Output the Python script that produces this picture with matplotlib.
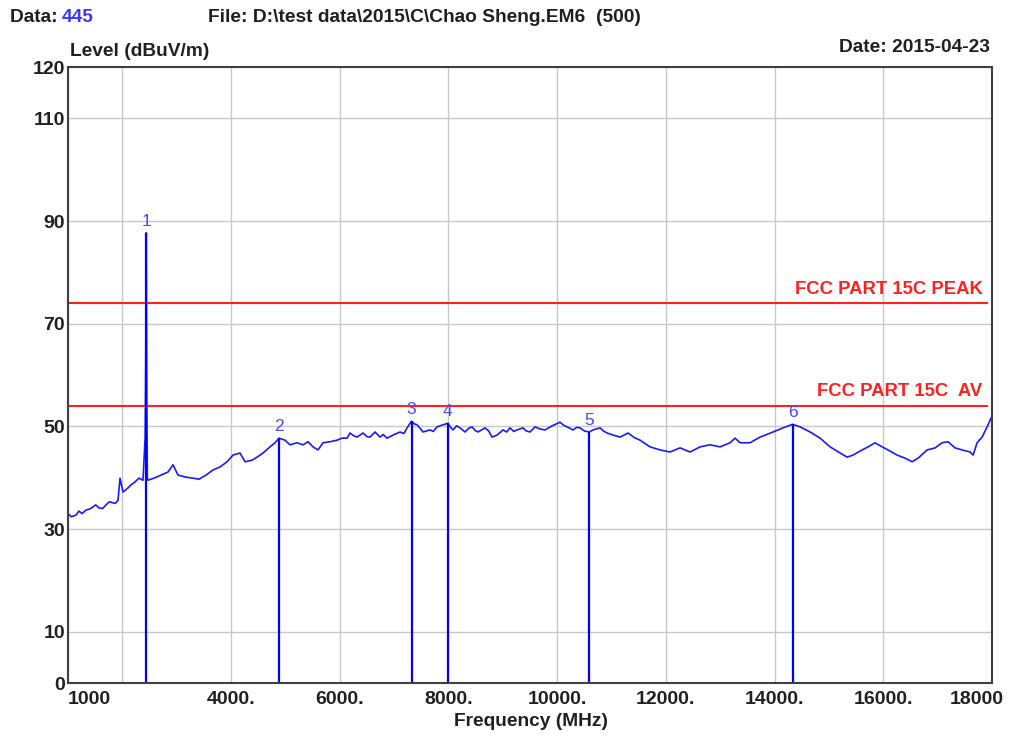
import matplotlib
matplotlib.use('Agg')
import matplotlib.pyplot as plt
import matplotlib.transforms as mtransforms

plt.rcParams['font.family'] = ['Liberation Sans', 'DejaVu Sans']

# Measured trace (MHz, dBuV/m)
freq_mhz = [1000, 1060, 1147, 1200, 1260, 1331, 1400, 1460, 1510, 1570, 1640, 1699, 1760, 1828,
            1870, 1920, 1957, 2012, 2104, 2160, 2214, 2306, 2380,
            2420, 2430, 2440, 2450, 2460, 2472, 2582, 2711, 2840, 2932, 3024, 3171, 3300, 3410,
            3539, 3668, 3800, 3926, 4036, 4165, 4257, 4386, 4478, 4588, 4717, 4809, 4880, 4993,
            5085, 5214, 5324, 5416, 5508, 5600, 5692, 5821, 5950, 6042, 6134, 6189, 6250, 6318,
            6428, 6500, 6557, 6649, 6741, 6800, 6870, 6980, 7109, 7180, 7238, 7320, 7370, 7422,
            7480, 7532, 7661, 7720, 7790, 7900, 7990, 8040, 8084, 8150, 8213, 8305, 8370, 8434,
            8490, 8544, 8673, 8740, 8802, 8894, 9004, 9070, 9133, 9200, 9262, 9372, 9430, 9501,
            9593, 9680, 9777, 9906, 10053, 10120, 10182, 10292, 10360, 10421, 10500, 10590, 10660,
            10789, 10850, 10918, 11028, 11157, 11304, 11420, 11525, 11709, 11893, 12077, 12261,
            12445, 12629, 12813, 12997, 13181, 13273, 13365, 13549, 13733, 13972, 14156, 14330,
            14469, 14653, 14837, 15021, 15205, 15334, 15444, 15610, 15720, 15849, 15978, 16088,
            16254, 16401, 16530, 16640, 16806, 16953, 17082, 17192, 17320, 17450, 17597, 17652,
            17726, 17818, 17910, 18000]
level_db = [33.0, 32.4, 32.7, 33.5, 33.0, 33.7, 33.9, 34.3, 34.7, 34.1, 34.0, 34.7, 35.3, 35.1,
            35.0, 35.6, 39.9, 37.2, 38.0, 38.6, 39.0, 39.9, 39.5,
            48.0, 62.0, 87.7, 56.0, 40.0, 39.5, 39.9, 40.5, 41.1, 42.5, 40.5, 40.1, 39.9, 39.7,
            40.5, 41.5, 42.1, 43.1, 44.4, 44.8, 43.1, 43.4, 44.0, 44.8, 46.0, 46.8, 47.7, 47.3,
            46.4, 46.8, 46.4, 47.0, 46.0, 45.4, 46.8, 47.0, 47.3, 47.7, 47.7, 48.7, 48.2, 47.9,
            48.7, 48.0, 47.9, 48.9, 47.9, 48.4, 47.7, 48.3, 48.9, 48.6, 49.7, 51.0, 50.5, 50.3,
            49.6, 48.9, 49.3, 49.0, 49.9, 50.3, 50.6, 49.8, 49.3, 50.1, 49.7, 48.9, 49.6, 49.9,
            49.2, 48.9, 49.7, 49.1, 47.9, 48.3, 49.3, 48.9, 49.7, 49.0, 49.3, 49.7, 49.1, 48.9,
            49.9, 49.5, 49.3, 50.1, 50.8, 50.2, 49.9, 49.3, 49.8, 49.7, 49.1, 48.9, 49.3,
            49.7, 49.1, 48.7, 48.3, 47.9, 48.7, 47.8, 47.3, 46.0, 45.4, 45.0, 45.8,
            45.0, 46.0, 46.4, 46.0, 46.8, 47.7, 46.8, 46.8, 47.9, 48.9, 49.7, 50.4,
            49.9, 48.9, 47.7, 46.0, 44.8, 44.0, 44.4, 45.4, 46.0, 46.8, 46.0, 45.4,
            44.4, 43.8, 43.1, 43.8, 45.4, 45.8, 46.8, 47.0, 45.8, 45.4, 45.0, 44.4,
            46.8, 47.9, 49.9, 52.0]

# Markers
marker_ids = ['1', '2', '3', '4', '5', '6']
marker_freq = [2440, 4880, 7320, 7990, 10590, 14330]
marker_level = [87.7, 47.7, 51.0, 50.6, 48.9, 50.4]

# Limit lines
limit_names = ['FCC PART 15C PEAK', 'FCC PART 15C  AV']
limit_levels = [74, 54]

x_ticks = [1000, 2000, 4000, 6000, 8000, 10000, 12000, 14000, 16000, 18000]
x_labels = ['1000', '', '4000.', '6000.', '8000.', '10000.', '12000.', '14000.', '16000.', '18000']
y_ticks = [0, 10, 30, 50, 70, 90, 110, 120]

W, H = 1009, 736
fig = plt.figure(figsize=(W / 100, H / 100), dpi=100)
ax = fig.add_axes([68 / W, 1 - 683 / H, (992 - 68) / W, (683 - 67) / H])

ax.set_xlim(1000, 18000)
ax.set_ylim(0, 120)
ax.set_xticks(x_ticks)
ax.set_xticklabels(x_labels)
ax.set_yticks(y_ticks)
ax.set_yticklabels([str(v) for v in y_ticks])
ax.tick_params(length=0, labelsize=14, colors='#202020')
ax.tick_params(axis='x', pad=6)
ax.tick_params(axis='y', pad=2)
for lab in ax.get_xticklabels() + ax.get_yticklabels():
    lab.set_fontweight('bold')
xl = ax.get_xticklabels()
xl[0].set_horizontalalignment('left')
ax.grid(True, color='#c8c8c8', lw=1)
ax.set_axisbelow(True)
for s in ax.spines.values():
    s.set_color('#404040')
    s.set_linewidth(1.5)

# shift the last x label a bit left like the original
off = mtransforms.ScaledTranslation(-15 / 100, 0, fig.dpi_scale_trans)
last = ax.xaxis.get_major_ticks()[-1]
last.label1.set_transform(last.label1.get_transform() + off)

# trace
ax.plot(freq_mhz, level_db, color='#1a1aff', lw=1.2)

# limit lines
for name, lv in zip(limit_names, limit_levels):
    ax.hlines(lv, 1000, 17930, color='#ff2020', lw=1.5)
    ax.annotate(name, (17930, lv), xytext=(-4, 4), textcoords='offset points',
                ha='right', va='bottom', color='#ff2020', fontsize=13.3, fontweight='bold')

# markers
ax.vlines(marker_freq, 0, marker_level, color='#0000ff', lw=1.6)
for mid, mf, ml in zip(marker_ids, marker_freq, marker_level):
    ax.annotate(mid, (mf, ml), xytext=(0, 3), textcoords='offset points',
                ha='center', va='bottom', color='#4848ff', fontsize=12.5)

# header texts
def ftext(x, y, s, color='#202020', **kw):
    fig.text(x / W, 1 - y / H, s, va='center', fontsize=13.8, fontweight='bold', color=color, **kw)

ftext(10, 17, 'Data: ')
ftext(62, 17, '445', color='#3a3aff')
ftext(208, 17, 'File: D:\\test data\\2015\\C\\Chao Sheng.EM6  (500)')
ftext(70, 52, 'Level (dBuV/m)')
ftext(990, 47, 'Date: 2015-04-23', ha='right')
ftext(531, 721, 'Frequency (MHz)', ha='center')

fig.savefig('out.png', dpi=100, facecolor='white')
